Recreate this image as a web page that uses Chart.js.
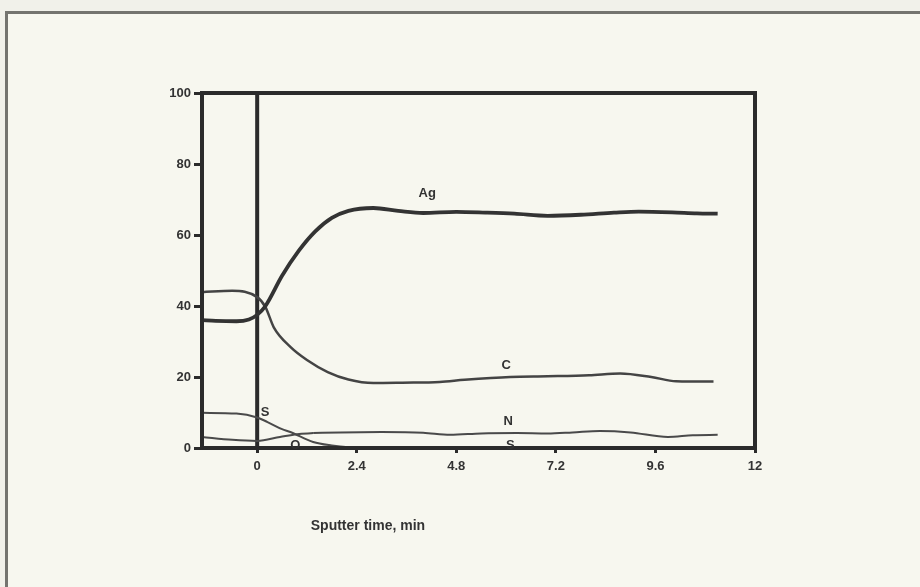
<!DOCTYPE html>
<html>
<head>
<meta charset="utf-8">
<title>Sputter depth profile</title>
<script src="https://cdn.jsdelivr.net/npm/chart.js@4.4.1/dist/chart.umd.min.js"></script>
<style>
  html, body { margin: 0; padding: 0; background: #f1f1ea; }
  #wrap { position: relative; width: 920px; height: 587px; overflow: hidden; }
  #frame {
    position: absolute; left: 5px; top: 11px; width: 930px; height: 600px;
    border-left: 3px solid #74746f; border-top: 3px solid #74746f;
    background: #f7f7ef;
  }
  canvas { position: absolute; left: 0; top: 0; }
</style>
</head>
<body>
<div id="wrap">
  <div id="frame"></div>
  <canvas id="chart" width="920" height="587"></canvas>
</div>
<script>
// ── Data (x = sputter time in min, y = at. %) ──
const agTime = [-1.33, -1, -0.5, -0.2, 0, 0.2, 0.6, 1.0, 1.4, 1.8, 2.2, 2.8, 3.4, 4.0, 4.8, 5.5, 6.2, 7.0, 7.8, 8.6, 9.2, 10.0, 10.6, 11.1];
const agVals = [36, 35.8, 35.7, 36.2, 37.5, 40, 48.5, 55.5, 61, 64.8, 66.8, 67.6, 66.8, 66.2, 66.5, 66.3, 66, 65.4, 65.7, 66.3, 66.6, 66.4, 66.1, 66];

const cTime = [-1.33, -0.6, 0, 0.2, 0.4, 0.8, 1.2, 1.7, 2.2, 2.8, 3.5, 4.4, 5.0, 6.1, 7.0, 8.0, 8.75, 9.5, 10.1, 11.0];
const cVals = [43.9, 44.3, 42.5, 39.7, 34, 28.5, 24.8, 21.4, 19.3, 18.3, 18.4, 18.6, 19.2, 20, 20.2, 20.5, 21, 20, 18.8, 18.7];

const sTime = [-1.33, -0.5, 0, 0.25, 0.6, 0.8, 1.35, 1.8, 2.2, 2.6, 4, 6];
const sVals = [9.9, 9.7, 8.6, 7.3, 5.3, 4.5, 1.7, 0.7, 0.2, 0.1, 0.1, 0.1];

const oTime = [-1.33, -0.6, 0, 0.55, 0.96, 1.35];
const oVals = [3.1, 2.3, 2.0, 3.1, 3.9, 4.2];

const nTime = [1.35, 2.0, 3.0, 4.0, 4.65, 5.4, 6.26, 7.0, 7.6, 8.26, 9.0, 9.9, 10.5, 11.1];
const nVals = [4.2, 4.4, 4.5, 4.3, 3.7, 4.1, 4.2, 4.1, 4.4, 4.8, 4.4, 3.1, 3.6, 3.7];

const interfaceTime = [0, 0];
const interfaceVals = [0, 100];

const xTicks = [0, 2.4, 4.8, 7.2, 9.6, 12];
const yTicks = [0, 20, 40, 60, 80, 100];

// curve labels, placed in data units
const labelText = ['Ag', 'C', 'S', 'O', 'N', 'S'];
const labelTime = [4.1, 6.0, 0.19, 0.92, 6.05, 6.1];
const labelVals = [71.8, 23.4, 10.1, 0.6, 7.6, 0.6];

const INK = '#2b2b2b';
const FONT = { family: '"Liberation Sans", Arial, sans-serif', size: 13, weight: 'bold' };

function toPoints(xs, ys) {
  return xs.map((x, i) => ({ x: x, y: ys[i] }));
}

function series(label, xs, ys, width, color) {
  return {
    label: label,
    data: toPoints(xs, ys),
    borderColor: color,
    borderWidth: width,
    pointRadius: 0,
    cubicInterpolationMode: 'monotone',
    fill: false
  };
}

// ── Frame round the plot, curve labels and axis title ──
const decorations = {
  id: 'decorations',
  afterDatasetsDraw(chart) {
    const { ctx, chartArea: a, scales } = chart;
    ctx.save();
    ctx.strokeStyle = INK;
    ctx.lineWidth = 4;
    ctx.strokeRect(a.left, a.top, a.right - a.left, a.bottom - a.top);

    ctx.fillStyle = '#333';
    ctx.font = 'bold 13px "Liberation Sans", Arial, sans-serif';
    ctx.textAlign = 'center';
    ctx.textBaseline = 'middle';
    labelText.forEach((t, i) => {
      ctx.fillText(t, scales.x.getPixelForValue(labelTime[i]), scales.y.getPixelForValue(labelVals[i]));
    });

    ctx.font = 'bold 14px "Liberation Sans", Arial, sans-serif';
    ctx.fillText('Sputter time, min', scales.x.getPixelForValue(2.67), a.bottom + 78);
    ctx.restore();
  }
};

new Chart(document.getElementById('chart').getContext('2d'), {
  type: 'line',
  data: {
    datasets: [
      series('Ag', agTime, agVals, 3.8, '#333333'),
      series('C', cTime, cVals, 2.5, '#444444'),
      series('S', sTime, sVals, 2, '#4a4a4a'),
      series('O', oTime, oVals, 2, '#4a4a4a'),
      series('N', nTime, nVals, 2, '#4a4a4a'),
      { label: 'interface', data: toPoints(interfaceTime, interfaceVals), borderColor: INK, borderWidth: 4, pointRadius: 0 }
    ]
  },
  options: {
    responsive: false,
    animation: false,
    layout: { padding: { left: 160, right: 165, top: 93, bottom: 79 } },
    plugins: { legend: { display: false }, tooltip: { enabled: false } },
    scales: {
      x: {
        type: 'linear',
        min: -1.33,
        max: 12,
        afterBuildTicks: s => { s.ticks = xTicks.map(v => ({ value: v })); },
        afterFit: s => { s.height = 60; },
        border: { display: false },
        grid: { drawOnChartArea: false, drawTicks: true, tickLength: 5, tickWidth: 3, tickColor: INK },
        ticks: { color: '#333', font: FONT, padding: 6, maxRotation: 0, callback: v => String(v) }
      },
      y: {
        min: 0,
        max: 100,
        afterBuildTicks: s => { s.ticks = yTicks.map(v => ({ value: v })); },
        afterFit: s => { s.width = 42; },
        border: { display: false },
        grid: { drawOnChartArea: false, drawTicks: true, tickLength: 8, tickWidth: 3, tickColor: INK },
        ticks: { color: '#333', font: FONT, padding: 3, callback: v => String(v) }
      }
    }
  },
  plugins: [decorations]
});
</script>
</body>
</html>
